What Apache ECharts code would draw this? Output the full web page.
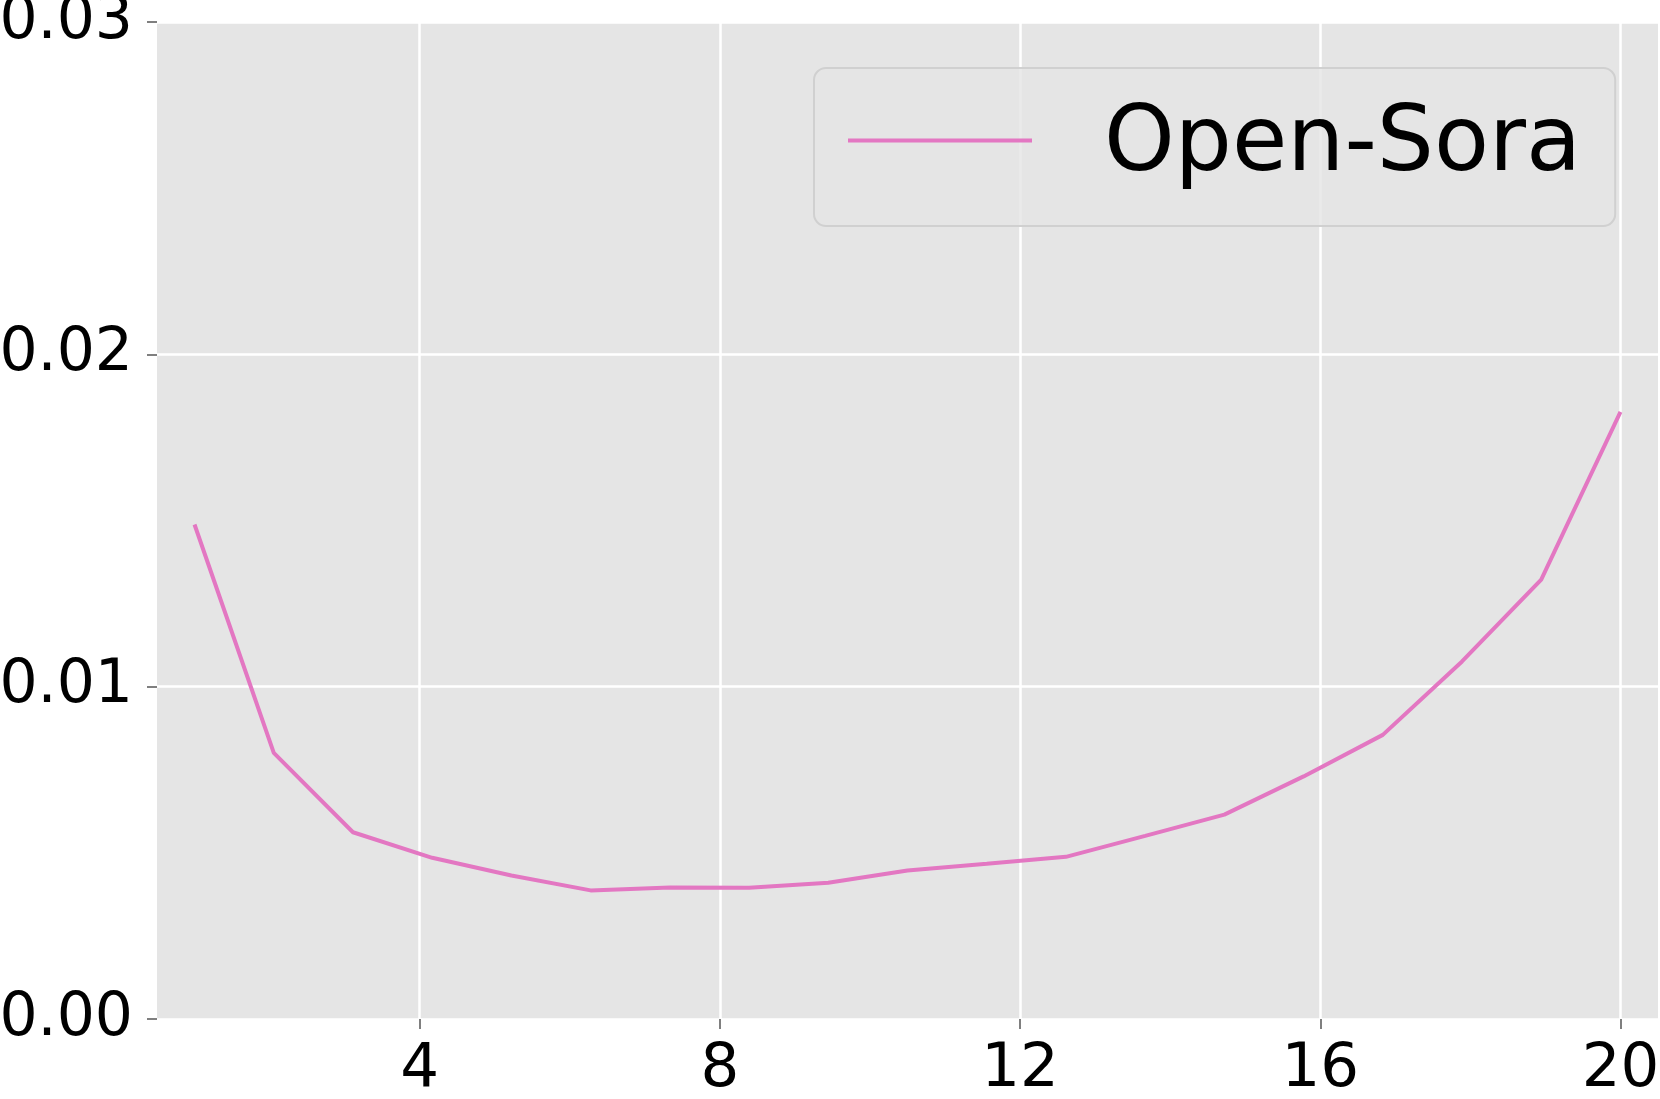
<!DOCTYPE html>
<html>
<head>
<meta charset="utf-8">
<script src="https://cdn.jsdelivr.net/npm/echarts@6/dist/echarts.min.js"></script>
<style>
    html, body { margin: 0; padding: 0; background: #ffffff; }
    #chart { width: 1660px; height: 1099px; }
</style>
</head>
<body>
<div id="chart"></div>
<script>
// Data
const seriesName = 'Open-Sora';
const steps = [1, 2.056, 3.111, 4.167, 5.222, 6.278, 7.333, 8.389, 9.444, 10.5,
               11.556, 12.611, 13.667, 14.722, 15.778, 16.833, 17.889, 18.944, 20];
const values = [0.01488, 0.00801, 0.00562, 0.00485, 0.00432, 0.00387, 0.00396, 0.00395, 0.00410, 0.00447,
                0.00467, 0.00488, 0.00551, 0.00615, 0.00730, 0.00855, 0.01076, 0.01322, 0.01827];
const xTicks = [4, 8, 12, 16, 20];

document.addEventListener('DOMContentLoaded', function() {
    initChart();
});

function initChart() {
    const chart = echarts.init(document.getElementById('chart'), null, { renderer: 'canvas' });
    const font = 'DejaVu Sans';

    const option = {
        animation: false,
        backgroundColor: '#ffffff',
        grid: {
            left: 157,
            right: 2,
            top: 22,
            bottom: 80,
            outerBoundsMode: 'none',
            show: true,
            backgroundColor: '#e5e5e5',
            borderWidth: 0
        },
        legend: {
            data: [seriesName],
            left: 814,
            top: 68,
            padding: [34, 34, 34, 34],
            backgroundColor: 'rgba(229,229,229,0.8)',
            borderColor: '#d0d0d0',
            borderWidth: 2,
            borderRadius: 12,
            // line drawn at the top of a taller icon box so it sits a bit above the text centre
            icon: 'path://M0,0h184v4h-184z M0,16.99h0.01v0.01h-0.01z',
            itemWidth: 184,
            itemHeight: 17,
            itemStyle: { color: '#e377c2' },
            textStyle: {
                fontFamily: font,
                fontSize: 90,
                color: '#000000',
                padding: [0, 0, 0, 67]
            }
        },
        xAxis: {
            type: 'value',
            min: 0.5,
            max: 20.5,
            axisLine: { show: false },
            axisTick: {
                show: true,
                customValues: xTicks,
                length: 10,
                lineStyle: { color: '#555555', width: 1.5 }
            },
            axisLabel: {
                customValues: xTicks,
                margin: 21,
                fontFamily: font,
                fontSize: 61,
                color: '#000000'
            },
            splitLine: {
                show: true,
                lineStyle: { color: '#ffffff', width: 2.5 }
            }
        },
        yAxis: {
            type: 'value',
            min: 0,
            max: 0.03,
            interval: 0.01,
            axisLine: { show: false },
            axisTick: {
                show: true,
                length: 10,
                lineStyle: { color: '#555555', width: 1.5 }
            },
            axisLabel: {
                margin: 24,
                padding: [4, 0, 0, 0],
                fontFamily: font,
                fontSize: 60,
                color: '#000000',
                formatter: function(v) { return v.toFixed(2); }
            },
            splitLine: {
                show: true,
                lineStyle: { color: '#ffffff', width: 2.5 }
            }
        },
        series: [{
            name: seriesName,
            type: 'line',
            data: steps.map((x, i) => [x, values[i]]),
            showSymbol: false,
            symbol: 'none',
            lineStyle: { color: '#e377c2', width: 4 },
            itemStyle: { color: '#e377c2' }
        }]
    };

    chart.setOption(option);
}
</script>
</body>
</html>
